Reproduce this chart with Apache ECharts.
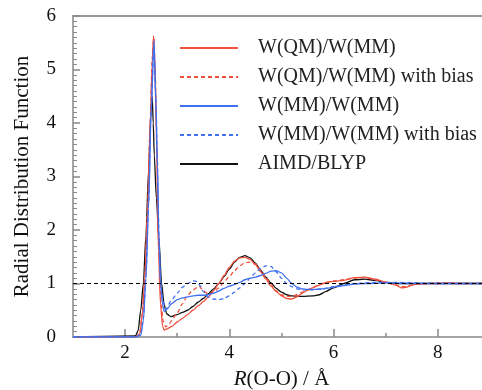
<!DOCTYPE html>
<html><head><meta charset="utf-8">
<script src="https://cdn.jsdelivr.net/npm/echarts@6/dist/echarts.min.js"></script>
<style>html,body{margin:0;padding:0;background:#fff}#c{width:482px;height:390px}</style>
</head><body><div id="c"></div>
<script>
// ---- data ----
const legendNames = ['W(QM)/W(MM)', 'W(QM)/W(MM) with bias', 'W(MM)/W(MM)', 'W(MM)/W(MM) with bias', 'AIMD/BLYP'];
const xTickLabels = [2, 4, 6, 8];
const xMinorTicks = [3, 5, 7];

const rQM = [1.0,2.2,2.28,2.33,2.38,2.43,2.48,2.52,2.545,2.57,2.6,2.64,2.68,2.72,2.75,2.8,2.9,3.0,3.1,3.2,3.3,3.4,3.5,3.6,3.7,3.8,3.9,4.0,4.1,4.2,4.3,4.4,4.5,4.6,4.7,4.8,4.9,5.0,5.1,5.2,5.3,5.4,5.5,5.6,5.7,5.8,5.9,6.0,6.2,6.4,6.6,6.8,7.0,7.2,7.3,7.4,7.5,7.6,7.8,8.0,8.2,8.4,8.6,8.85];
const gQM = [0,0,0.05,0.4,1.1,2.3,3.9,5.1,5.63,5.2,3.8,1.6,0.6,0.2,0.13,0.15,0.2,0.28,0.35,0.42,0.5,0.58,0.66,0.75,0.87,1.0,1.15,1.3,1.42,1.48,1.49,1.45,1.36,1.22,1.08,0.95,0.85,0.77,0.72,0.71,0.75,0.82,0.87,0.92,0.96,1.0,1.03,1.04,1.06,1.11,1.12,1.08,1.03,0.97,0.92,0.93,0.97,0.99,1.0,1.0,1.01,1.0,1.0,1.0];

const rQMb = [1.0,2.2,2.28,2.33,2.38,2.43,2.48,2.52,2.55,2.58,2.61,2.65,2.69,2.73,2.78,2.85,2.9,3.0,3.1,3.2,3.3,3.42,3.5,3.6,3.7,3.8,3.9,4.0,4.1,4.2,4.3,4.4,4.5,4.6,4.7,4.8,4.9,5.0,5.1,5.2,5.3,5.4,5.5,5.6,5.8,6.0,6.2,6.4,6.6,6.8,7.0,7.2,7.3,7.4,7.5,7.6,8.0,8.85];
const gQMb = [0,0,0.06,0.45,1.2,2.4,4.0,5.2,5.58,4.9,3.5,1.6,0.65,0.3,0.19,0.25,0.32,0.45,0.62,0.78,0.88,0.95,0.86,0.8,0.84,0.92,1.03,1.13,1.24,1.33,1.39,1.4,1.36,1.25,1.12,0.98,0.86,0.79,0.76,0.76,0.79,0.84,0.88,0.93,1.0,1.05,1.07,1.1,1.11,1.07,1.02,0.97,0.94,0.94,0.97,0.99,1.01,1.0];

const rMM = [1.0,2.2,2.3,2.35,2.4,2.45,2.5,2.555,2.59,2.62,2.65,2.68,2.72,2.75,2.8,2.9,3.0,3.1,3.2,3.3,3.4,3.5,3.6,3.7,3.8,3.9,4.0,4.1,4.2,4.3,4.4,4.5,4.6,4.7,4.8,4.9,5.0,5.1,5.2,5.3,5.4,5.5,5.6,5.8,6.0,6.2,6.4,6.6,7.0,7.5,8.0,8.85];
const gMM = [0,0,0.03,0.3,1.1,2.4,4.2,5.55,4.4,3.2,1.8,1.0,0.6,0.48,0.52,0.63,0.7,0.73,0.75,0.77,0.78,0.78,0.79,0.82,0.86,0.91,0.95,0.98,1.02,1.07,1.1,1.12,1.15,1.19,1.23,1.24,1.2,1.1,1.0,0.93,0.9,0.89,0.89,0.9,0.93,0.96,0.99,1.0,1.01,1.0,1.0,1.0];

const rMMb = [1.0,2.2,2.3,2.35,2.4,2.45,2.5,2.55,2.59,2.62,2.65,2.68,2.72,2.78,2.9,3.0,3.1,3.2,3.3,3.38,3.45,3.5,3.6,3.7,3.8,3.9,4.0,4.1,4.2,4.3,4.4,4.5,4.6,4.7,4.8,4.9,5.0,5.1,5.2,5.3,5.4,5.6,5.8,6.0,6.2,6.4,6.8,7.2,7.6,8.0,8.85];
const gMMb = [0,0,0.04,0.35,1.15,2.5,4.3,5.4,4.5,3.3,1.9,1.05,0.7,0.52,0.7,0.82,0.93,1.0,1.05,1.04,0.95,0.85,0.74,0.71,0.7,0.72,0.77,0.84,0.92,1.0,1.1,1.2,1.28,1.33,1.32,1.22,1.1,1.0,0.94,0.9,0.88,0.88,0.9,0.94,0.97,1.0,1.02,1.02,1.01,1.0,1.0];

const rAI = [1.0,2.2,2.25,2.3,2.35,2.4,2.45,2.5,2.52,2.54,2.56,2.6,2.65,2.7,2.75,2.8,2.88,3.0,3.1,3.2,3.3,3.4,3.5,3.6,3.7,3.8,3.9,4.0,4.1,4.2,4.3,4.4,4.5,4.6,4.7,4.8,4.9,5.0,5.1,5.2,5.4,5.6,5.73,5.85,6.0,6.2,6.4,6.6,6.8,7.0,7.2,7.5,8.0,8.85];
const gAI = [0,0.02,0.12,0.5,1.0,1.9,3.1,4.3,4.5,4.0,3.4,2.6,1.8,1.0,0.6,0.43,0.38,0.42,0.46,0.5,0.57,0.65,0.72,0.81,0.9,1.0,1.13,1.27,1.4,1.49,1.52,1.48,1.38,1.25,1.12,1.01,0.91,0.84,0.79,0.77,0.76,0.77,0.79,0.85,0.92,1.0,1.07,1.08,1.06,1.02,1.0,1.0,1.0,1.0];

const zip = (a, b) => a.map((v, i) => [v, b[i]]);
const RED = '#f0503c', BLUE = '#4070f0', BLACK = '#111111';
const FONT = 'Liberation Serif';

function mk(name, r, g, color, dashed, z) {
  return {
    name, type: 'line', data: zip(r, g), symbol: 'none', showSymbol: false,
    smooth: 0.25, smoothMonotone: 'x',
    z, xAxisIndex: 0, yAxisIndex: 0,
    lineStyle: { color, width: 1.3, type: dashed ? [4, 3] : 'solid' },
    itemStyle: { color }
  };
}

const series = [
  mk(legendNames[4], rAI, gAI, BLACK, false, 2),
  mk(legendNames[0], rQM, gQM, RED, false, 3),
  mk(legendNames[1], rQMb, gQMb, RED, true, 3),
  mk(legendNames[2], rMM, gMM, BLUE, false, 4),
  mk(legendNames[3], rMMb, gMMb, BLUE, true, 4)
];
series[0].markLine = {
  silent: true, symbol: 'none', label: { show: false },
  lineStyle: { color: '#000', type: [4, 3], width: 1 },
  data: [{ yAxis: 1 }]
};

const chart = echarts.init(document.getElementById('c'));
chart.setOption({
  animation: false,
  backgroundColor: '#fff',
  grid: { left: 73, right: 0, top: 16, bottom: 53, outerBoundsMode: 'none', containLabel: false },
  legend: {
    data: legendNames, orient: 'vertical', left: 179, top: 38, padding: 0,
    itemWidth: 58, itemHeight: 14, itemGap: 9,
    itemStyle: { opacity: 0, borderWidth: 0 },
    textStyle: { fontFamily: FONT, fontSize: 20, color: '#222', padding: [0, 0, 0, 15] }
  },
  xAxis: [
    {
      type: 'value', min: 1, max: 8.85, position: 'bottom',
      name: '{i|R}(O-O) / Å', nameLocation: 'middle', nameGap: 32,
      nameTextStyle: { fontFamily: FONT, fontSize: 21, color: '#111', padding: [0, 0, 0, 8],
        rich: { i: { fontFamily: FONT, fontSize: 21, fontStyle: 'italic', color: '#111' } } },
      axisLine: { lineStyle: { color: '#888', width: 1.5 } },
      axisTick: { inside: true, length: 8, customValues: xTickLabels, lineStyle: { color: '#888', width: 1.5 } },
      axisLabel: { customValues: xTickLabels, fontFamily: FONT, fontSize: 19, color: '#111', margin: 7 },
      splitLine: { show: false }
    },
    {
      type: 'value', min: 1, max: 8.85, position: 'bottom',
      axisLine: { show: false },
      axisTick: { inside: true, length: 4, customValues: xMinorTicks, lineStyle: { color: '#888', width: 1.5 } },
      axisLabel: { show: false }, splitLine: { show: false }
    },
    {
      type: 'value', min: 1, max: 8.85, position: 'top',
      axisLine: { show: true, lineStyle: { color: '#999', width: 2 } },
      axisTick: { show: false }, axisLabel: { show: false }, splitLine: { show: false }
    }
  ],
  yAxis: {
    type: 'value', min: 0, max: 6, interval: 1,
    name: 'Radial Distribution Function', nameLocation: 'middle', nameGap: 40,
    nameTextStyle: { fontFamily: FONT, fontSize: 21, color: '#111' },
    axisLine: { show: true, lineStyle: { color: '#888', width: 1.5 } },
    axisTick: { inside: true, length: 7, lineStyle: { color: '#888', width: 1.5 } },
    minorTick: { show: true, splitNumber: 10, length: 4, lineStyle: { color: '#888', width: 1 } },
    axisLabel: { fontFamily: FONT, fontSize: 19, color: '#111', margin: 17 },
    splitLine: { show: false }, minorSplitLine: { show: false }
  },
  series
});
</script></body></html>
